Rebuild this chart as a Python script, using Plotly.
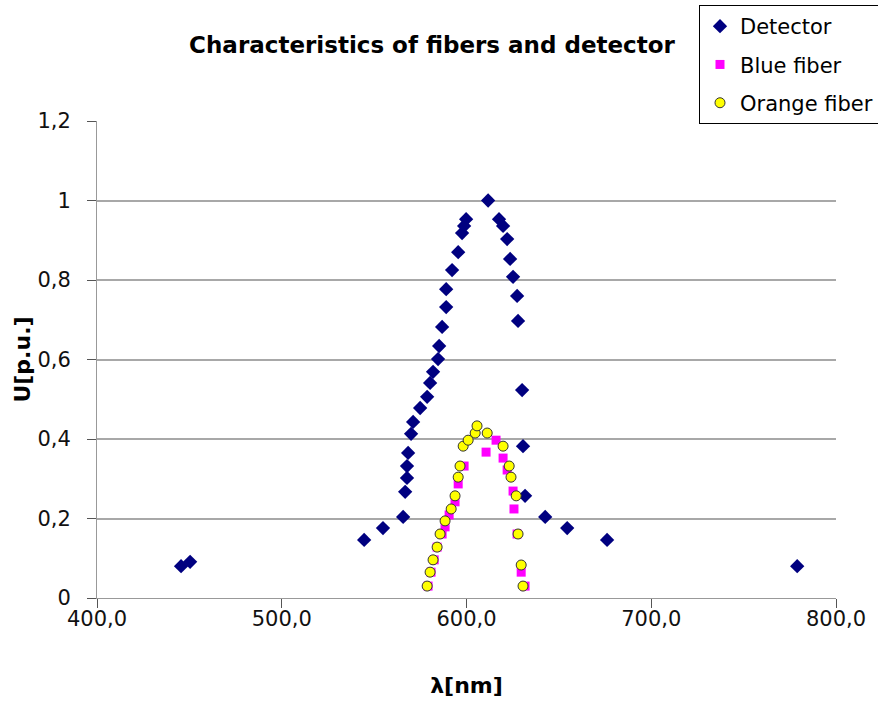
import plotly.graph_objects as go

# Detector response (wavelength in nm, normalised voltage)
detector_nm = [445.5, 450.4, 544.6, 554.8, 565.7, 566.8, 567.8, 567.8, 568.4, 570.0,
               571.1, 574.9, 578.7, 580.3, 581.9, 584.6, 585.2, 586.8, 589.0, 589.0,
               592.2, 595.5, 597.6, 598.7, 599.8, 611.7, 617.6, 619.8, 622.0, 623.6,
               625.2, 627.4, 627.9, 630.1, 630.6, 631.7, 642.6, 654.5, 676.1, 779.0]
detector_u = [0.080, 0.091, 0.146, 0.176, 0.204, 0.267, 0.302, 0.332, 0.365, 0.413,
              0.443, 0.478, 0.506, 0.541, 0.569, 0.601, 0.634, 0.682, 0.732, 0.777,
              0.825, 0.870, 0.918, 0.936, 0.953, 1.000, 0.953, 0.936, 0.903, 0.853,
              0.808, 0.760, 0.697, 0.523, 0.382, 0.257, 0.204, 0.176, 0.146, 0.080]

# Blue fiber
blue_nm = [579.2, 580.8, 582.5, 584.1, 586.8, 588.4, 590.6, 593.8, 595.5, 598.7,
           610.6, 616.0, 619.8, 622.0, 625.2, 625.7, 627.4, 629.6, 631.7]
blue_u = [0.030, 0.065, 0.096, 0.128, 0.161, 0.179, 0.209, 0.242, 0.287, 0.332,
          0.367, 0.397, 0.352, 0.322, 0.269, 0.224, 0.161, 0.065, 0.030]

# Orange fiber
orange_nm = [578.7, 580.3, 581.9, 584.1, 585.7, 588.4, 591.7, 593.8, 595.5, 596.5,
             598.2, 600.9, 604.7, 605.7, 611.2, 619.8, 623.1, 624.1, 626.9, 627.9,
             629.6, 630.6]
orange_u = [0.030, 0.065, 0.096, 0.128, 0.161, 0.194, 0.224, 0.257, 0.304, 0.332,
            0.382, 0.397, 0.415, 0.433, 0.415, 0.382, 0.332, 0.304, 0.257, 0.161,
            0.083, 0.030]

x_ticks = [400, 500, 600, 700, 800]
x_labels = ["400,0", "500,0", "600,0", "700,0", "800,0"]
y_ticks = [0, 0.2, 0.4, 0.6, 0.8, 1.0, 1.2]
y_labels = ["0", "0,2", "0,4", "0,6", "0,8", "1", "1,2"]

FONT = "DejaVu Sans, sans-serif"

fig = go.Figure()

fig.add_trace(go.Scatter(
    x=detector_nm, y=detector_u, mode='markers', name='Detector', legendgroup='d',
    marker=dict(symbol='diamond', size=11, color='#000080', line=dict(width=0))
))
fig.add_trace(go.Scatter(
    x=blue_nm, y=blue_u, mode='markers', name='Blue fiber', legendgroup='b',
    marker=dict(symbol='square', size=9, color='#ff00ff', line=dict(width=0))
))
fig.add_trace(go.Scatter(
    x=orange_nm, y=orange_u, mode='markers', name='Orange fiber', legendgroup='o',
    marker=dict(symbol='circle', size=10, color='#ffff00',
                line=dict(width=1, color='#333333'))
))

# the 0,4 gridline is drawn darker in the original
fig.add_hline(y=0.4, line_color='black', line_width=1, layer='below')

fig.update_layout(
    width=878, height=701,
    margin=dict(l=97, r=42, t=121, b=103, autoexpand=False),
    paper_bgcolor='white', plot_bgcolor='white',
    font=dict(family=FONT, size=21, color='#111111'),
    title=dict(text='<b>Characteristics of fibers and detector</b>',
               x=432 / 878, xanchor='center', y=1 - 45 / 701, yanchor='middle',
               font=dict(size=23, color='black')),
    legend=dict(xref='container', x=699 / 878, xanchor='left',
                yref='container', y=1 - 5 / 701, yanchor='top',
                bordercolor='black', borderwidth=1, bgcolor='white',
                font=dict(size=21, color='black'), itemwidth=30,
                tracegroupgap=8),
    showlegend=True,
)

fig.update_xaxes(
    range=[400, 800], tickvals=x_ticks, ticktext=x_labels,
    showgrid=False, zeroline=False,
    showline=True, linecolor='#999999', linewidth=1,
    ticks='outside', ticklen=9, tickcolor='#555555', ticklabelstandoff=-7,
    title=dict(text='<b>λ[nm]</b>', font=dict(size=22, color='black'), standoff=47),
)
fig.update_yaxes(
    range=[0, 1.2], tickvals=y_ticks, ticktext=y_labels,
    showgrid=True, gridcolor='#a8a8a8', gridwidth=1.5, zeroline=False,
    showline=True, linecolor='#999999', linewidth=1,
    ticks='outside', ticklen=9, tickcolor='#555555', ticklabelstandoff=12,
    title=dict(text='<b>U[p.u.]</b>', font=dict(size=22, color='black'), standoff=0),
)

fig.write_html("out.html", config={'displayModeBar': False},
               post_script="document.body.style.margin='0';")
